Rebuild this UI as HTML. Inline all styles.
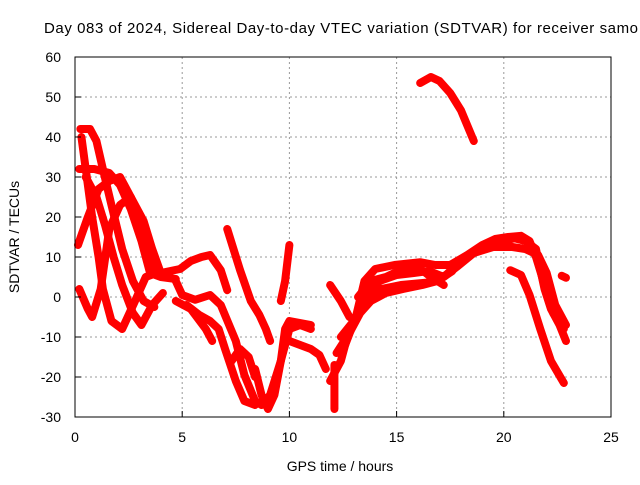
<!DOCTYPE html>
<html><head><meta charset="utf-8"><style>
body{margin:0;background:#fff;width:640px;height:480px;overflow:hidden}
svg text{font-family:"Liberation Sans",sans-serif;font-size:14px;fill:#000}
</style></head><body>
<svg id="chart" width="640" height="480">
<text x="44" y="33" textLength="594" lengthAdjust="spacing" style="font-size:15px">Day 083 of 2024, Sidereal Day-to-day VTEC variation (SDTVAR) for receiver samo</text>
<g id="grid"></g>
<g id="series"></g>
<rect x="75" y="57" width="536" height="360" fill="none" stroke="#000" stroke-width="1"/>
<g id="ticks"></g>
<text x="340" y="471" text-anchor="middle">GPS time / hours</text>
<text transform="translate(19,237) rotate(-90)" text-anchor="middle">SDTVAR / TECUs</text>
</svg>
<script>
const xTicks=[0,5,10,15,20,25];
const yTicks=[-30,-20,-10,0,10,20,30,40,50,60];
const track1=[[0.25,42],[0.7,42],[1.0,39],[1.3,32],[1.7,23],[2.2,12],[2.7,4],[3.2,-1],[3.7,-2.5]];
const track2=[[0.14,13],[0.6,20],[1.1,27],[1.6,29],[2.1,30],[2.6,25],[3.1,18],[3.5,13],[3.7,7],[4.0,6],[4.9,7],[5.4,9],[5.9,10],[6.3,10.5],[6.8,6.7],[7.1,1.7]];
const track3=[[0.2,32],[0.9,32],[1.6,31],[2.1,28],[2.6,22],[3.1,14],[3.5,6],[4.0,5],[4.7,4.5]];
const track4=[[0.2,2],[0.6,-3],[0.8,-5],[1.2,2],[1.6,17],[2.1,23],[2.6,25],[3.2,19],[3.6,12],[4.0,6]];
const track5=[[0.3,40],[0.5,32],[0.8,20],[1.1,10],[1.3,2],[1.7,-6],[2.2,-8],[2.8,-1],[3.3,5],[3.8,6]];
const track6=[[0.5,30],[1.0,25],[1.4,18],[1.8,10],[2.2,3],[2.7,-4],[3.1,-7],[3.6,-2],[4.1,1]];
const track7=[[4.7,4],[5.0,0.5],[5.6,-0.7],[6.3,0.5],[6.8,-2],[7.5,-11],[7.9,-19.5],[8.4,-26],[8.7,-27],[9.1,-24.5],[9.6,-16],[10,-8],[10.5,-7],[11,-8]];
const track8=[[4.7,-1],[5.4,-3],[6.1,-8],[6.4,-11]];
const track9=[[5.2,-2],[5.8,-4.5],[6.3,-6],[6.7,-8],[7.0,-13],[7.5,-21],[7.9,-26],[8.4,-27]];
const track10=[[7.1,17],[7.7,6.7],[8.2,-1],[8.6,-4.5],[8.9,-8],[9.1,-11]];
const track11=[[7.3,-16],[7.7,-13],[8.1,-15],[8.4,-20]];
const track12=[[8.4,-18],[8.7,-24.5],[9.0,-28],[9.3,-24.5],[9.6,-16],[9.8,-8],[10,-6],[10.5,-6.5],[11,-7]];
const track13=[[9.6,-1],[9.8,4],[10,13]];
const track14=[[10,-11],[10.5,-12],[11,-13],[11.4,-14.5],[11.7,-18]];
const track15=[[11.9,-21],[12.4,-16],[12.8,-8],[13.3,-3],[14,1.7],[15.2,3],[16.6,3.7],[17.3,5.5],[18,9],[18.7,11.7],[19.4,13.7],[20,14],[20.5,14.7],[21,14],[21.5,12],[21.7,7],[21.9,2],[22.2,-3],[22.6,-7],[22.9,-11]];
const track16=[[12.6,-12],[13.1,-5],[13.5,4],[14,7],[14.9,8],[16.1,8.7],[16.8,8],[17.5,8],[18.3,10.5],[19,13],[19.6,14.5],[20.2,15],[20.8,15.3],[21.2,14],[21.5,10],[21.9,3],[22.3,-4],[22.8,-8]];
const track17=[[12.2,-14],[12.8,-9],[13.3,-4],[13.8,-1],[14.5,1],[15.3,2],[16.2,3],[16.9,4],[17.6,6.5]];
const track18=[[20.3,6.7],[20.8,5.5],[21.2,0.5],[21.7,-8],[22.2,-16],[22.8,-21.5]];
const track19=[[16.1,53.5],[16.6,55],[17,54],[17.5,51],[18,46.7],[18.6,39]];
const track20=[[12.1,-17],[12.1,-23],[12.1,-28]];
const track21=[[11.9,3],[12.4,-1],[12.8,-5]];
const track22=[[22.7,5.3],[22.9,4.8]];
const track23=[[12.4,-10],[13.0,-6],[13.6,0],[14.2,4],[15.0,5.5],[15.8,6],[16.5,6.5],[17.2,5],[17.8,7.5],[18.6,11],[19.5,12.5],[20.4,12.5],[21.0,12],[21.6,10.5],[22.0,6],[22.4,-2],[22.9,-7]];
const track24=[[13.2,0],[13.8,4],[14.5,5],[15.3,7],[16.0,7.5],[16.6,5],[17.2,3]];
const tracks=[track1,track2,track3,track4,track5,track6,track7,track8,track9,track10,track11,track12,track13,track14,track15,track16,track17,track18,track19,track20,track21,track22,track23,track24];
const NS='http://www.w3.org/2000/svg';
const X=v=>75+v*536/25, Y=v=>297-v*4;
const grid=document.getElementById('grid'),ticks=document.getElementById('ticks'),ser=document.getElementById('series');
function mk(tag,attrs,parent){const e=document.createElementNS(NS,tag);for(const k in attrs)e.setAttribute(k,attrs[k]);parent.appendChild(e);return e;}
xTicks.forEach(t=>{
  if(t>0&&t<25){const g=mk('line',{x1:X(t),x2:X(t),y1:57,y2:417,stroke:'#999','stroke-dasharray':'2,3'},grid);
  
  }
  const tl=mk('line',{x1:X(t),x2:X(t),y1:417,y2:411,stroke:'#000'},ticks);
  
  
  const tt=mk('text',{x:X(t),y:442,'text-anchor':'middle'},ticks);tt.textContent=t;
  
  
});
yTicks.forEach(t=>{
  if(t>-30&&t<60){const g=mk('line',{x1:75,x2:611,y1:Y(t),y2:Y(t),stroke:'#999','stroke-dasharray':'2,3'},grid);
  
  }
  const tl=mk('line',{x1:75,x2:81,y1:Y(t),y2:Y(t),stroke:'#000'},ticks);
  
  
  const tt=mk('text',{x:61,y:Y(t)+5,'text-anchor':'end'},ticks);tt.textContent=t;
  
  
});
tracks.forEach(tr=>{
  const p=mk('polyline',{points:tr.map(d=>X(d[0])+','+Y(d[1])).join(' '),fill:'none',stroke:'#f00','stroke-width':8,'stroke-linejoin':'round','stroke-linecap':'round'},ser);
  
  
});
</script>
</body></html>
